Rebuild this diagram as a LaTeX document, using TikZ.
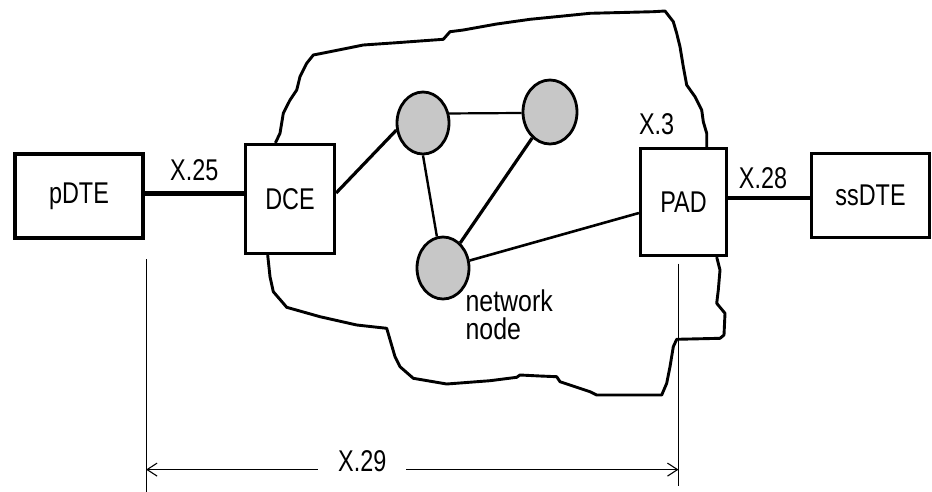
\documentclass[tikz,border=0pt]{standalone}
\usepackage{fontspec}
\usepackage{tikz}
\usetikzlibrary{arrows.meta,positioning,calc,shapes.geometric}
\newfontfamily\boxfont[FakeStretch=0.78]{Liberation Sans}
\newfontfamily\notefont[FakeStretch=0.83]{Liberation Sans}

\begin{document}
\begin{tikzpicture}[
    x=1pt, y=-1pt,
    font=\boxfont\fontsize{30}{32}\selectfont,
    >={Straight Barb[length=10pt,width=13pt]},
    box/.style={draw, line width=3.2pt, fill=white, inner sep=0pt},
    netnode/.style={draw, ellipse, line width=2.8pt, fill=black!22, inner sep=0pt, minimum width=52pt, minimum height=62pt},
    link/.style={line width=2.6pt},
    bus/.style={line width=4.8pt},
    cloud/.style={line width=2.9pt, line join=round},
    lbl/.style={inner sep=0pt},
    dim/.style={line width=1.1pt}
]
    \useasboundingbox (0,0) rectangle (932,491);

    \node[box, minimum width=128pt, minimum height=84pt] (pdte) at (79,196) {pDTE};
    \node[box, minimum width=89pt, minimum height=109pt] (dce) at (290,199) {DCE};
    \node[box, minimum width=86pt, minimum height=107pt] (pad) at (683.5,202) {PAD};
    \node[box, minimum width=118pt, minimum height=84pt] (ssdte) at (870.5,195.5) {ssDTE};

    \node[netnode] (n1) at (423,123) {};
    \node[netnode, minimum width=54pt, minimum height=64pt] (n2) at (550,112) {};
    \node[netnode] (n3) at (443,268) {};
    \node[lbl, anchor=north west, align=left, font=\notefont\fontsize{30}{28}\selectfont] (netlbl) at ($(n3.east)+(-5,22)$) {network\\node};
    \node[lbl, anchor=south west] (x3) at ($(pad.north west)+(0,-12)$) {X.3};

    \draw[cloud] ($(dce.north west)+(31.5,0)$) -- (280,133.3) -- (283.3,113.3) -- (290,100) -- (296.7,90)
        -- (300,76.7) -- (306.7,63.3) -- (313.3,55) -- (330,51.7) -- (363.3,45) -- (396.7,42.7)
        -- (443.3,39.3) -- (450,31.7) -- (463.3,30) -- (496.7,24) -- (530,19.3) -- (563.3,16)
        -- (590,13.3) -- (653.3,11.7) -- (665,11) -- (673.3,21.7) -- (676.7,33.3) -- (680,46.7)
        -- (683.3,66.7) -- (686.7,85) -- (695,96.7) -- (701.7,110) -- (703.3,121.7) -- (706.7,133.3)
        -- ($(pad.north west)+(67.8,0)$);
    \draw[cloud] ($(pad.south west)+(77.8,0)$) -- (720,270) -- (718.3,290) -- (716.7,303.3) -- (725,313.3)
        -- (724,335) -- (720,338.3) -- (676.7,339.3) -- (673.3,346.7) -- (670,366.7) -- (666.7,383.3)
        -- (661.7,395) -- (596.7,395) -- (590,391.7) -- (560,381.7) -- (556.7,376.7) -- (540,376)
        -- (520,375) -- (516.7,377.3) -- (490,380.7) -- (446.7,384) -- (413.3,378.3) -- (400,366.7)
        -- (395,356.7) -- (386.7,328.3) -- (356.7,325) -- (320,316.7) -- (286.7,307.3) -- (283.3,303.3)
        -- (273.3,291.7) -- (270,276.7) -- ($(dce.south west)+(23.8,0)$);

    \coordinate (l25) at ($(pdte.east)+(0,-2.5)$);
    \coordinate (l28) at ($(pad.east)+(0,-4)$);
    \coordinate (dceport) at ($(dce.east)+(0,-6)$);
    \coordinate (padport) at ($(pad.west)+(0,11)$);

    \draw[bus] (l25) -- node[lbl, above=10pt] {X.25} (l25 -| dce.west);
    \draw[bus] (l28) -- node[lbl, above=7pt, xshift=-6pt] {X.28} (l28 -| ssdte.west);

    \draw[link, line width=3.2pt] (dceport) -- (n1.195);
    \draw[link, line width=2.2pt] (n1.20) -- (n2.182);
    \draw[link, line width=2.4pt] (n1.south) -- (n3.101);
    \draw[link, line width=3.2pt] (n2) -- (n3);
    \draw[link] (n3) -- (padport);

    \coordinate (extl) at ($(pdte.south east)+(1.5,19.5)$);
    \coordinate (extr) at ($(pad.south)+(-5,6.5)$);
    \coordinate (dima) at ($(extl)+(0,210.5)$);
    \draw[dim] (extl) -- ++(0,234);
    \draw[dim] (extr) -- ++(0,222);
    \draw[dim, <->] (dima) -- node[pos=0.406, fill=white, inner xsep=20pt, inner ysep=1pt, yshift=8pt] {X.29} (dima -| extr);
\end{tikzpicture}
\end{document}
